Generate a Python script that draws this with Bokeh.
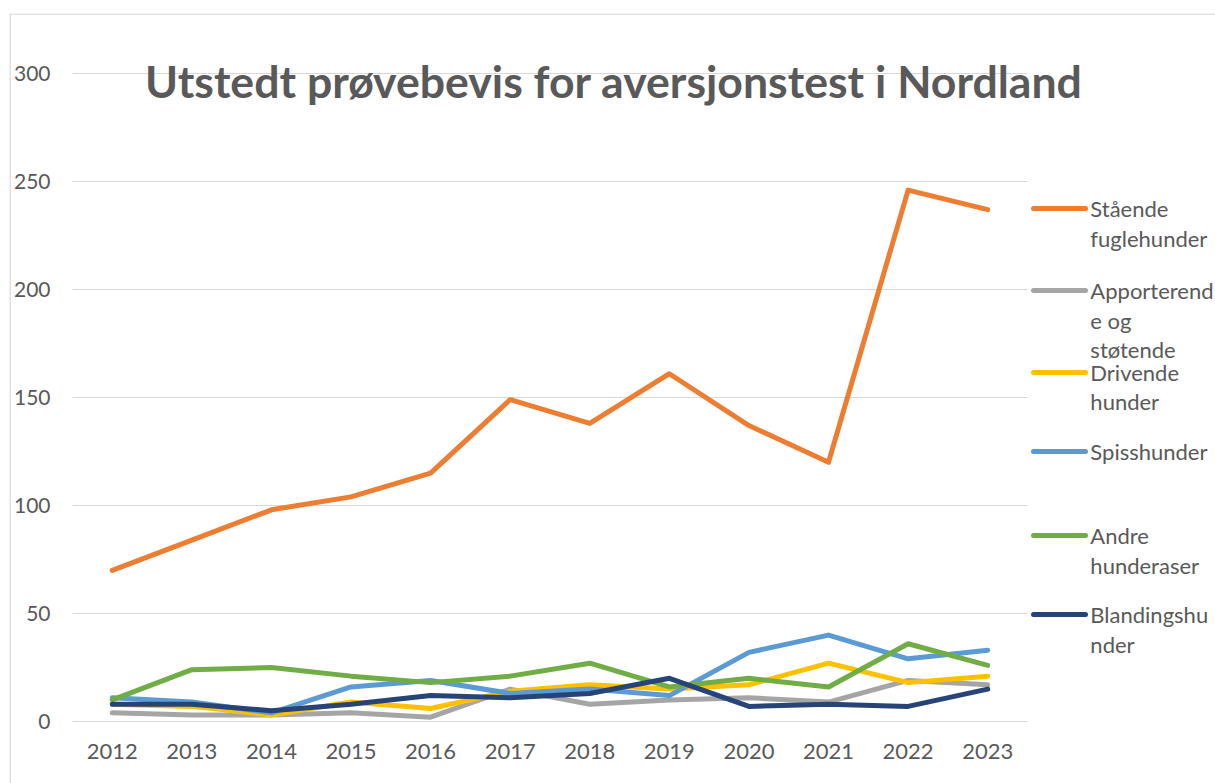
from bokeh.plotting import figure
from bokeh.models import Range1d, FixedTicker
from bokeh.core.properties import value
from bokeh.embed import file_html
from bokeh.resources import INLINE

# ---------------- data ----------------
years = [2012, 2013, 2014, 2015, 2016, 2017, 2018, 2019, 2020, 2021, 2022, 2023]
staende = [70, 84, 98, 104, 115, 149, 138, 161, 137, 120, 246, 237]
apporterende = [4, 3, 3, 4, 2, 15, 8, 10, 11, 9, 19, 17]
drivende = [8, 7, 3, 9, 6, 14, 17, 15, 17, 27, 18, 21]
spisshunder = [11, 9, 4, 16, 19, 13, 15, 12, 32, 40, 29, 33]
andre = [10, 24, 25, 21, 18, 21, 27, 16, 20, 16, 36, 26]
blanding = [8, 8, 5, 8, 12, 11, 13, 20, 7, 8, 7, 15]
series_labels = ["Stående\nfuglehunder", "Apporterend\ne og\nstøtende", "Drivende\nhunder",
                 "Spisshunder", "Andre\nhunderaser", "Blandingshu\nnder"]
y_ticks = [0, 50, 100, 150, 200, 250, 300]
title_text = "Utstedt prøvebevis for aversjonstest i Nordland"

# ---------------- style ----------------
colors = ["#ED7D31", "#A5A5A5", "#FFC000", "#5B9BD5", "#70AD47", "#264478"]
series = [staende, apporterende, drivende, spisshunder, andre, blanding]
FONT = "Lato"
TXT = "#595959"
GRID = "#D9D9D9"

X0, X1 = 2010.7084, 2025.8624
Y0, Y1 = -28.704, 327.778

p = figure(width=1215, height=783, output_backend="svg", toolbar_location=None,
           x_range=Range1d(X0, X1), y_range=Range1d(Y0, Y1),
           min_border_left=9, min_border_right=0, min_border_top=13, min_border_bottom=0,
           outline_line_color=None)
p.xgrid.visible = False
p.ygrid.visible = False

# chart-area border (left and top edges)
p.segment(x0=X0 + 0.007, x1=X0 + 0.007, y0=Y0, y1=Y1, line_color=GRID, line_width=1.5)
p.segment(x0=X0, x1=X1, y0=Y1 - 0.25, y1=Y1 - 0.25, line_color=GRID, line_width=1.5)

# gridlines over the category span
for t in y_ticks:
    p.segment(x0=years[0] - 0.5, x1=years[-1] + 0.5, y0=t, y1=t, line_color=GRID, line_width=1)

for s, c in zip(series, colors):
    p.line(years, s, line_color=c, line_width=5, line_cap="round", line_join="round")

# axes (pinned inside the frame)
p.xaxis.ticker = FixedTicker(ticks=years)
p.yaxis.ticker = FixedTicker(ticks=y_ticks)
p.xaxis.fixed_location = 0
p.yaxis.fixed_location = years[0] - 0.5
for ax in (p.xaxis[0], p.yaxis[0]):
    ax.axis_line_color = None
    ax.major_tick_line_color = None
    ax.minor_tick_line_color = None
    ax.major_tick_out = 0
    ax.major_tick_in = 0
    ax.major_label_text_font = FONT
    ax.major_label_text_color = TXT
p.yaxis.major_label_text_font_size = "21px"
p.xaxis.major_label_text_font_size = "22px"
p.yaxis.major_label_standoff = 22
p.xaxis.major_label_standoff = 23

# title
p.text(x=[2018.304], y=[296.8], text=[title_text], text_font=value(FONT),
       text_font_style="bold", text_font_size="44.6px", text_color=TXT,
       text_align="center", text_baseline="alphabetic")

# legend (drawn in data space to the right of the category span)
leg_y = [237.5, 199.5, 161.6, 125.0, 86.1, 49.5]
line_step = 13.66
lx0, lx1, tx = 2023.576, 2024.229, 2024.29
for lab, c, y in zip(series_labels, colors, leg_y):
    p.segment(x0=lx0, x1=lx1, y0=y, y1=y, line_color=c, line_width=5, line_cap="round")
    lines = lab.split("\n")
    p.text(x=[tx] * len(lines), y=[y - i * line_step for i in range(len(lines))], text=lines,
           text_font=value(FONT), text_font_size="22px", text_color=TXT,
           text_align="left", text_baseline="middle")

open("out.html", "w").write(file_html(p, INLINE))
